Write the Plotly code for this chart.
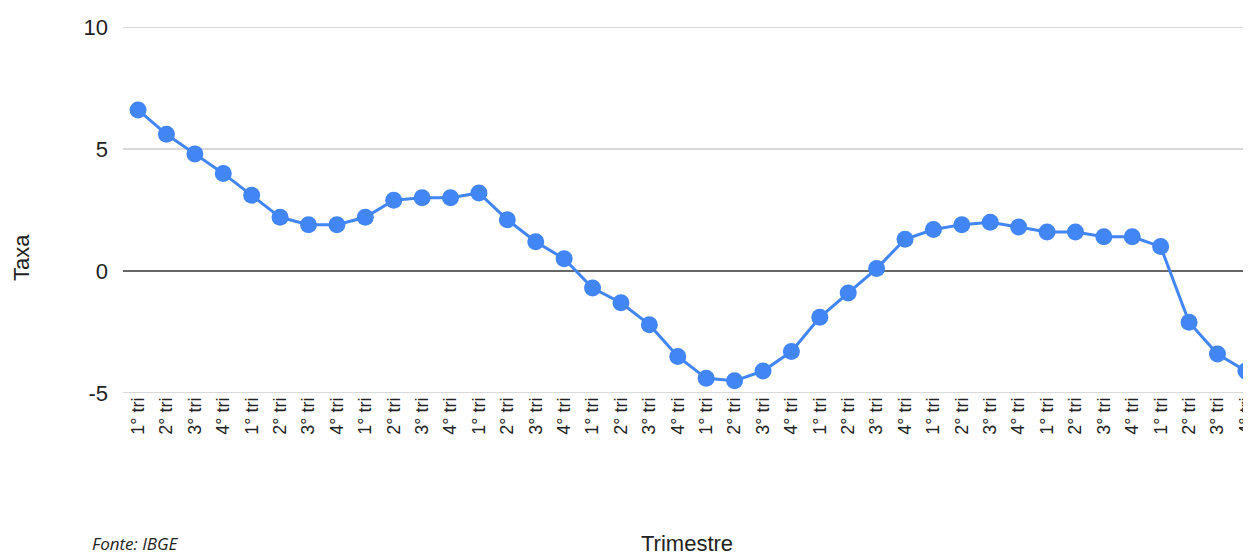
import plotly.graph_objects as go

labels = ["1° tri", "2° tri", "3° tri", "4° tri"] * 10
taxa = [6.6, 5.6, 4.8, 4.0, 3.1, 2.2, 1.9, 1.9, 2.2, 2.9,
        3.0, 3.0, 3.2, 2.1, 1.2, 0.5, -0.7, -1.3, -2.2, -3.5,
        -4.4, -4.5, -4.1, -3.3, -1.9, -0.9, 0.1, 1.3, 1.7, 1.9,
        2.0, 1.8, 1.6, 1.6, 1.4, 1.4, 1.0, -2.1, -3.4, -4.1]
xs = list(range(len(taxa)))
y_ticks = [-5, 0, 5, 10]
y_ticktext = ["-5", "0", "5", "10"]

W, H = 1243, 547
L, T, B, R = 115, 19, 162, 0
PW, PH = W - L - R, H - T - B


def px(x):
    return (x - L) / PW


def py(y):
    return (H - B - y) / PH


fig = go.Figure()

# grid lines at the y ticks (zero line darker)
for v in y_ticks:
    fig.add_shape(type="line", xref="paper", x0=0, x1=1, yref="y", y0=v, y1=v,
                  line=dict(color="#333333" if v == 0 else "#cccccc", width=1.5),
                  layer="below")

fig.add_trace(go.Scatter(
    x=xs, y=taxa, mode="lines+markers",
    line=dict(color="#4285F4", width=3),
    marker=dict(color="#4285F4", size=17),
    cliponaxis=False, showlegend=False,
))

fig.update_layout(
    width=W, height=H,
    margin=dict(l=L, r=R, t=T, b=B, autoexpand=False),
    plot_bgcolor="white", paper_bgcolor="white",
    font=dict(family="Liberation Sans, Arial, sans-serif", color="#222"),
    xaxis=dict(
        range=[-0.53, 39.18],
        tickvals=xs, ticktext=labels, tickangle=-90,
        tickfont=dict(size=18, color="#222"),
        ticklabeloverflow="allow", automargin=False,
        showgrid=False, zeroline=False, showline=False, ticks="",
    ),
    yaxis=dict(
        range=[-5, 10], tickvals=y_ticks, ticktext=y_ticktext,
        tickfont=dict(size=22, color="#222"), automargin=False,
        showgrid=False, zeroline=False,
        ticks="", ticklabelstandoff=14,
    ),
    annotations=[
        dict(text="Taxa", x=px(14), y=py(250), xref="paper", yref="paper", showarrow=False,
             xanchor="center", yanchor="middle",
             textangle=-90, font=dict(size=22, color="#222")),
        dict(text="Trimestre", x=px(679), y=py(535), xref="paper", yref="paper", showarrow=False,
             xanchor="center", yanchor="middle",
             font=dict(size=22, color="#222")),
        dict(text="<i>Fonte: IBGE</i>", x=px(82), y=py(535), xref="paper", yref="paper",
             showarrow=False, xanchor="left", yanchor="middle",
             font=dict(size=17, color="#222", family="Open Sans, sans-serif")),
    ],
)

fig.write_html("out.html")
